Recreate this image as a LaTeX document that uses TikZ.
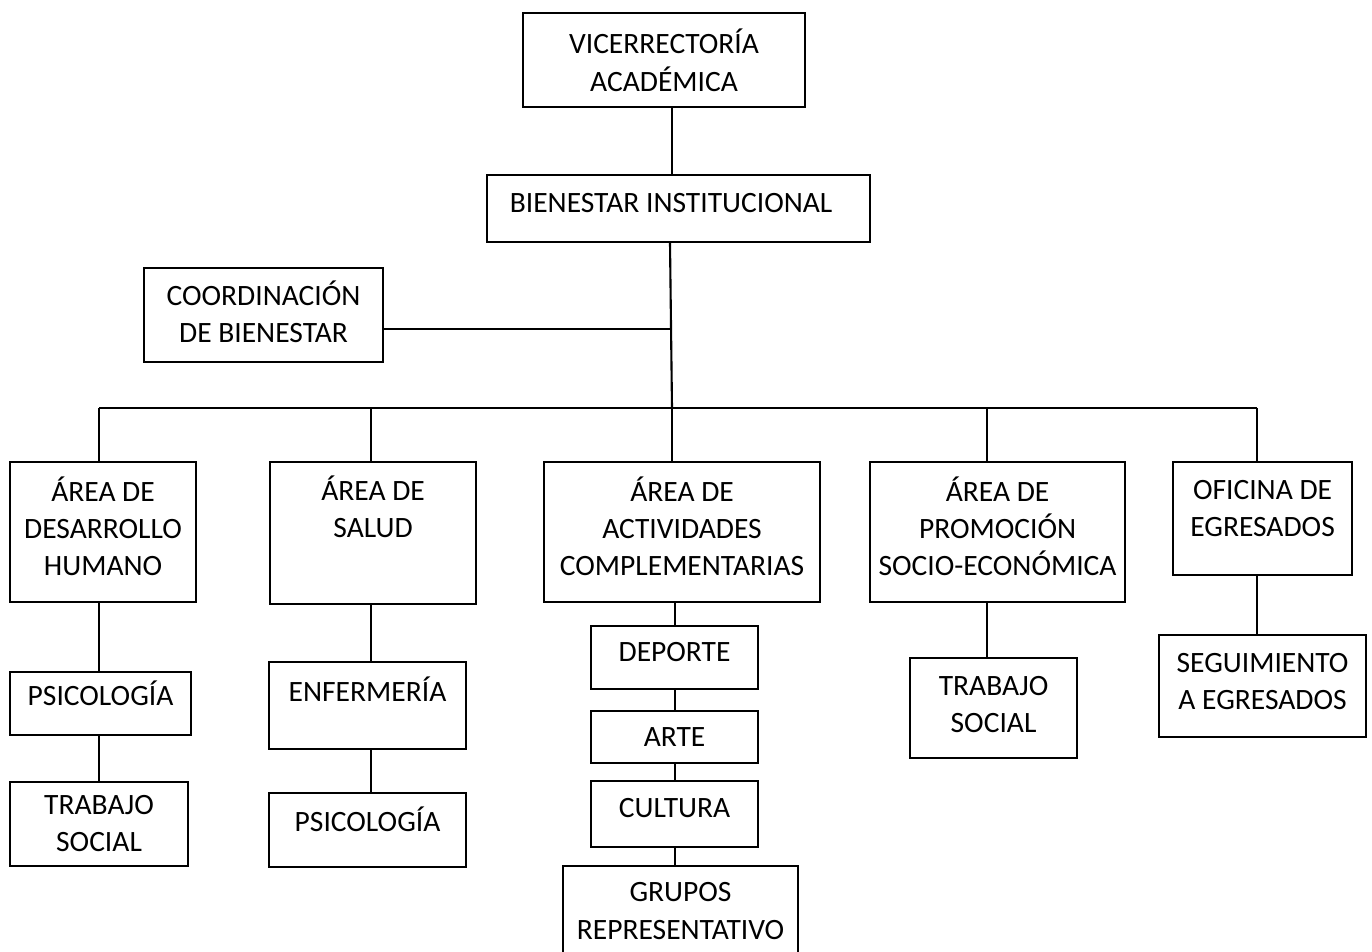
\documentclass[tikz,border=0pt]{standalone}
\usepackage{fontspec}
\setmainfont{Carlito}

\begin{document}
\begin{tikzpicture}[x=0.02cm,y=-0.02cm,
    box/.style={draw,line width=1.2pt,align=center,anchor=north west,inner sep=0pt,
      text depth=0.24cm,font=\fontsize{16.8}{21}\selectfont},
    wh/.style 2 args={minimum width=#1*0.02cm,minimum height=#2*0.02cm},
    link/.style={line width=1.2pt}]
  \path[use as bounding box,clip] (0,0) rectangle (1372,952);
  \fill[white] (0,0) rectangle (1372,952);

  % top of the chart
  \node [box,wh={282}{94},text depth=0cm] (vice) at (522,12) {VICERRECTORÍA\\[1pt]ACADÉMICA};
  \node [box,wh={383}{67}] (bien) at (486,174) {BIENESTAR INSTITUCIONAL\hspace{0.3cm}};
  \node [box,wh={239}{94},text depth=0.12cm] (coord) at (143,267) {COORDINACIÓN\\DE BIENESTAR};

  % areas
  \node [box,wh={186}{140}] (desa) at (9,461) {ÁREA DE\\DESARROLLO\\HUMANO};
  \node [box,wh={206}{142},text depth=1.04cm] (salud) at (269,461) {ÁREA DE\\SALUD};
  \node [box,wh={276}{140}] (activ) at (543,461) {ÁREA DE\\ACTIVIDADES\\COMPLEMENTARIAS};
  \node [box,wh={255}{140}] (promo) at (869,461) {ÁREA DE\\PROMOCIÓN\\SOCIO-ECONÓMICA};
  \node [box,wh={179}{113},text depth=0.4cm] (ofic) at (1172,461) {OFICINA DE\\EGRESADOS};

  % units under each area
  \node [box,wh={181}{63},text depth=0.4cm] (psic1) at (9,671) {PSICOLOGÍA};
  \node [box,wh={178}{84},text depth=0.04cm] (trab1) at (9,781) {TRABAJO\\SOCIAL};
  \node [box,wh={197}{87},text depth=0.64cm] (enfer) at (268,661) {ENFERMERÍA};
  \node [box,wh={197}{74},text depth=0.44cm] (psic2) at (268,792) {PSICOLOGÍA};
  \node [box,wh={167}{63}] (depo) at (590,625) {DEPORTE};
  \node [box,wh={167}{52},text depth=0.02cm] (arte) at (590,710) {ARTE};
  \node [box,wh={167}{66}] (cult) at (590,780) {CULTURA};
  \node [box,wh={235}{94},text depth=0.08cm] (grup) at (562,865) {GRUPOS\\[1pt]REPRESENTATIVO};
  \node [box,wh={167}{100},text depth=0.16cm] (trab2) at (909,657) {TRABAJO\\SOCIAL};
  \node [box,wh={207}{102},text depth=0.2cm] (segu) at (1158,634) {SEGUIMIENTO\\A EGRESADOS};

  % connectors
  \coordinate (hub) at (672,408);
  \coordinate (d1) at (99,408);
  \coordinate (d2) at (371,408);
  \coordinate (d3) at (672,408);
  \coordinate (d4) at (987,408);
  \coordinate (d5) at (1257,408);

  \draw [link] (vice.south -| hub) -- (bien.north -| hub);
  \draw [link] ([xshift=-0.04cm]bien.south -| hub) -- (hub);
  \draw [link] ([yshift=-0.28cm]coord.east) -- ([yshift=-0.28cm]coord.east -| hub);
  \draw [link] (d1) -- (d5);
  \foreach \d/\b in {d1/desa,d2/salud,d3/activ,d4/promo,d5/ofic}
    \draw [link] (\d) -- (\d |- \b.north);

  \draw [link] (desa.south -| d1) -- (psic1.north -| d1);
  \draw [link] (psic1.south -| d1) -- (trab1.north -| d1);
  \draw [link] (salud.south -| d2) -- (enfer.north -| d2);
  \draw [link] (enfer.south -| d2) -- (psic2.north -| d2);
  \draw [link] (activ.south -| depo.north) -- (depo.north);
  \draw [link] (depo.south) -- (arte.north);
  \draw [link] (arte.south) -- (cult.north);
  \draw [link] (cult.south) -- (grup.north -| cult.south);
  \draw [link] (promo.south -| d4) -- (trab2.north -| d4);
  \draw [link] (ofic.south -| d5) -- (segu.north -| d5);
\end{tikzpicture}
\end{document}
